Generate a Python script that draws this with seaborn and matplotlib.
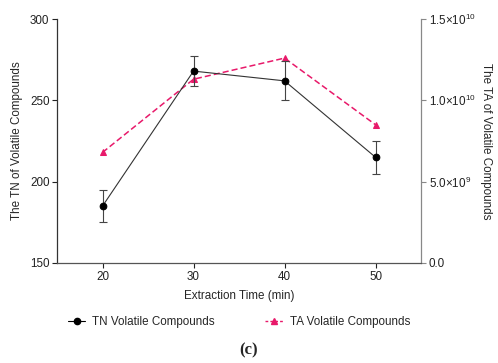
import matplotlib
matplotlib.use("Agg")
import matplotlib.pyplot as plt
import seaborn as sns
import pandas as pd
from matplotlib.lines import Line2D

# Extraction time (min)
times = [20, 30, 40, 50]
# Total number (TN) of volatile compounds, mean and SD
tn_mean = [185, 268, 262, 215]
tn_sd = [10, 9, 12, 10]
# Total area (TA) of volatile compounds
ta_area = [6.8e9, 1.13e10, 1.26e10, 8.5e9]

left_ticks = [150, 200, 250, 300]
right_ticks = [0, 5e9, 1e10, 1.5e10]
right_labels = ["0.0", r"5.0×10$^{9}$", r"1.0×10$^{10}$", r"1.5×10$^{10}$"]

sns.set_style("ticks")
plt.rcParams["font.family"] = ["Liberation Sans", "DejaVu Sans"]
plt.rcParams["mathtext.fontset"] = "custom"
plt.rcParams["mathtext.rm"] = "Liberation Sans"

fs = 8.4
pink = "#e8196a"
df = pd.DataFrame({"time": times, "tn": tn_mean, "ta": ta_area})

fig = plt.figure(figsize=(4.98, 3.63), dpi=100)
ax = fig.add_axes([0.1145, 0.2755, 0.731, 0.672])
ax2 = ax.twinx()

# TA series on the right axis
sns.lineplot(data=df, x="time", y="ta", ax=ax2, color=pink, lw=1.1,
             linestyle=(0, (4, 2)), marker="^", markersize=5,
             markeredgecolor=pink, zorder=2)

# TN series on the left axis with error bars
ax.errorbar(times, tn_mean, yerr=tn_sd, fmt="none", ecolor="#444444",
            elinewidth=0.8, capsize=3, capthick=0.8, zorder=3)
sns.lineplot(data=df, x="time", y="tn", ax=ax, color="#333333", lw=0.8,
             marker="o", markersize=4.8, markerfacecolor="black",
             markeredgecolor="black", zorder=3)

ax.set_zorder(ax2.get_zorder() + 1)
ax.patch.set_visible(False)

ax.set_xlim(15, 55)
ax.set_ylim(150, 300)
ax2.set_ylim(0, 1.5e10)
ax.set_xticks(times)
ax.set_yticks(left_ticks)
ax2.set_yticks(right_ticks)
ax2.set_yticklabels(right_labels)

for a in (ax, ax2):
    a.tick_params(labelsize=fs, length=3.5, width=0.8, pad=2, colors="#222222")
ax2.tick_params(axis="y", color="#888888")

for a in (ax, ax2):
    a.spines["top"].set_visible(False)
ax.spines["right"].set_visible(False)
ax2.spines["left"].set_visible(False)
ax2.spines["bottom"].set_visible(False)
ax.spines["left"].set_color("#333333")
ax.spines["bottom"].set_color("#555555")
ax2.spines["right"].set_color("#888888")
for sp in ("left", "bottom"):
    ax.spines[sp].set_linewidth(0.9)
ax2.spines["right"].set_linewidth(0.9)

ax.set_xlabel("Extraction Time (min)", fontsize=fs, labelpad=5)
ax.set_ylabel("The TN of Volatile Compounds", fontsize=fs, labelpad=5)
ax2.set_ylabel("The TA of Volatile Compounds", fontsize=fs, rotation=-90,
               labelpad=12)

handles = [
    Line2D([], [], color="black", lw=0.8, marker="o", markersize=4.5),
    Line2D([], [], color=pink, lw=1.0, linestyle=(0, (2, 1.5)), marker="^",
           markersize=4.5),
]
fig.legend(handles, ["TN Volatile Compounds", "TA Volatile Compounds"],
           loc="center", bbox_to_anchor=(0.48, 0.113), ncol=2, frameon=False,
           fontsize=fs, handlelength=1.5, columnspacing=4.3, handletextpad=0.6)

fig.text(0.5, 0.035, "(c)", ha="center", va="center", fontsize=12,
         fontweight="bold", family=["Liberation Serif", "DejaVu Serif"])

fig.savefig("out.png", dpi=100)
